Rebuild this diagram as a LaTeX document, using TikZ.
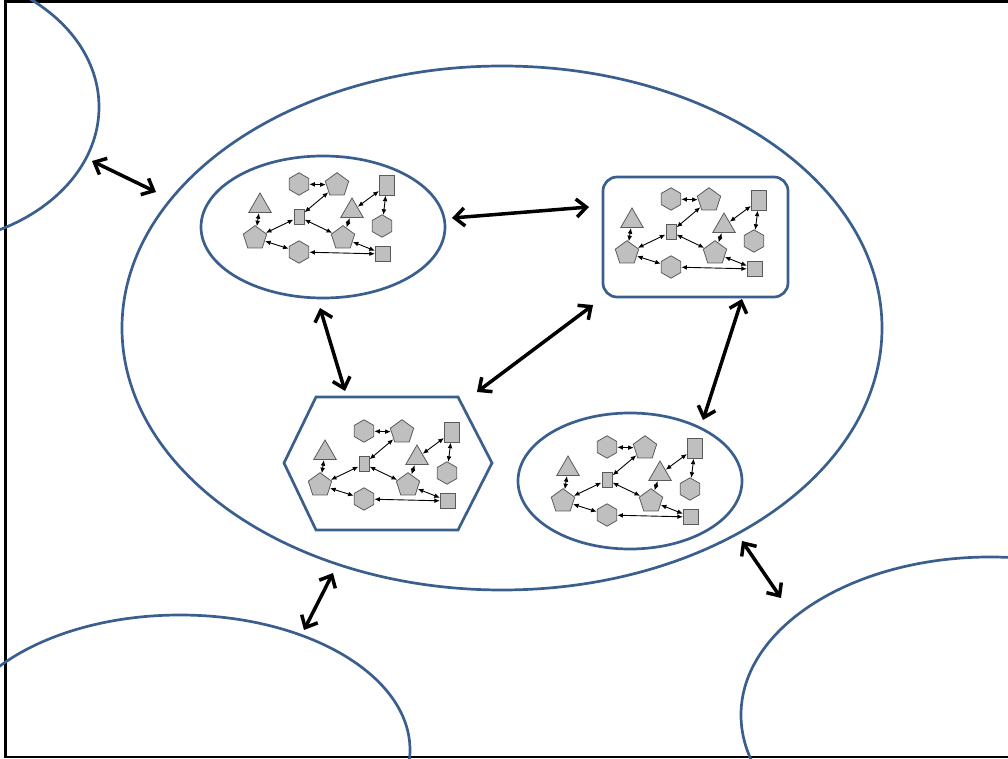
\documentclass[tikz,border=0pt]{standalone}
\usepackage{xcolor}
\usepackage{tikz}
\usetikzlibrary{positioning}
\usetikzlibrary{arrows.meta}
\usetikzlibrary{shapes}

\definecolor{ringBlue}{HTML}{3A5F8E}
\definecolor{cellGray}{HTML}{BFBFBF}
\definecolor{cellLine}{HTML}{5A5A5A}

% one small network, #1 = name prefix, #2 = position of its middle box
\newcommand*\miniNet[2]{%
	\begin{scope}[shift={(#2)}]
		\node[rbox, minimum width=5pt, minimum height=7.5pt] (#1S) at (0,0) {};
		\node[hexa] (#1Ha) at (0,-33) {};
		\node[penta] (#1Pa) at (38,-32) {};
		\node[rbox, minimum width=7.5pt, minimum height=10pt] (#1Ra) at (88,-32) {};
		\node[tri] (#1Ta) at (-39,-11) {};
		\node[tri] (#1Tb) at (53,-6) {};
		\node[hexa] (#1Hb) at (83,9) {};
		\node[penta] (#1Pb) at (-44,21) {};
		\node[penta] (#1Pc) at (44,21) {};
		\node[hexa] (#1Hc) at (0,35) {};
		\node[rbox, minimum size=7.5pt] (#1Q) at (84,37) {};
		
		\path (#1Ha) edge [link] (#1Pa);
		\path (#1Pa) edge [link] (#1S);
		\path (#1Ta) edge [link] (#1Pb);
		\path (#1S) edge [link] (#1Pb);
		\path (#1S) edge [link] (#1Pc);
		\path (#1Pc) edge [link] (#1Tb);
		\path (#1Tb) edge [link] (#1Ra);
		\path (#1Ra) edge [link] (#1Hb);
		\path (#1Pb) edge [link] (#1Hc);
		\path (#1Hc) edge [link] (#1Q);
		\path (#1Pc) edge [link] (#1Q);
	\end{scope}
}

\begin{document}
\begin{tikzpicture}[
		x = 0.5pt, y = -0.5pt,
		ring/.style = { draw = ringBlue, line width = 1.35pt, inner sep = 0pt, outer sep = 0pt },
		oval/.style = { ring, ellipse },
		cell/.style = { draw = cellLine, fill = cellGray, line width = 0.4pt, inner sep = 0pt, outer sep = 0.3pt },
		hexa/.style = { cell, regular polygon, regular polygon sides = 6, shape border rotate = 30, minimum size = 11.2pt },
		penta/.style = { cell, regular polygon, regular polygon sides = 5, minimum size = 12.3pt },
		tri/.style = { cell, regular polygon, regular polygon sides = 3, minimum size = 13pt },
		rbox/.style = { cell, rectangle },
		link/.style = { {Latex[length=2.8pt,width=2.4pt]}-{Latex[length=2.8pt,width=2.4pt]}, line width = 0.45pt, black },
		bond/.style = { {Straight Barb[length=5pt,width=9pt]}-{Straight Barb[length=5pt,width=9pt]}, line width = 1.75pt, black },
		]
		
		\useasboundingbox (0,0) rectangle (1008,759);
		\clip (0,0) rectangle (1008,759);
		
		% outer frame
		\draw[black, line width = 1.4pt] (5.5,1.5) rectangle (1015,757);
		
		% big rings
		\node[oval, minimum width = 380pt, minimum height = 262pt] (MAIN) at (502,328) {};
		\node[oval, minimum width = 179pt, minimum height = 137pt] (NW) at (-80,107) {};
		\node[oval, minimum width = 230pt, minimum height = 135pt] (SW) at (180,750) {};
		\node[oval, minimum width = 249pt, minimum height = 158pt] (SE) at (990,715) {};
		
		% inner groups
		\node[oval, minimum width = 122pt, minimum height = 71pt] (G1) at (323,227) {};
		\node[ring, rectangle, rounded corners = 7pt, minimum width = 92.5pt, minimum height = 60pt] (G2) at (695.5,237) {};
		\draw[ring] (316,397) -- (458,397) -- (492,463) -- (458,530) -- (316,530) -- (284,463) -- cycle;
		\node[oval, minimum width = 112pt, minimum height = 68pt] (G4) at (630,481) {};
		
		\miniNet{A}{299,217}
		\miniNet{B}{671,232}
		\miniNet{C}{364,464}
		\miniNet{D}{607,480}
		
		% arrow ends
		\coordinate (NWout) at (92,161);
		\coordinate (MAINnw) at (156,192);
		\coordinate (G1east) at (452,218);
		\coordinate (G2west) at (589,207);
		\coordinate (G1south) at (320,308);
		\coordinate (G3north) at (345,391);
		\coordinate (G3ne) at (477,392);
		\coordinate (G2sw) at (593,305);
		\coordinate (G2south) at (742,299);
		\coordinate (G4north) at (703,420);
		\coordinate (MAINsw) at (333,573);
		\coordinate (SWtop) at (304,630);
		\coordinate (MAINse) at (742,541);
		\coordinate (SEtop) at (781,598);
		
		\path (NWout) edge [bond] (MAINnw);
		\path (G1east) edge [bond] (G2west);
		\path (G1south) edge [bond] (G3north);
		\path (G3ne) edge [bond] (G2sw);
		\path (G2south) edge [bond] (G4north);
		\path (MAINsw) edge [bond] (SWtop);
		\path (MAINse) edge [bond] (SEtop);
		
\end{tikzpicture}
\end{document}
